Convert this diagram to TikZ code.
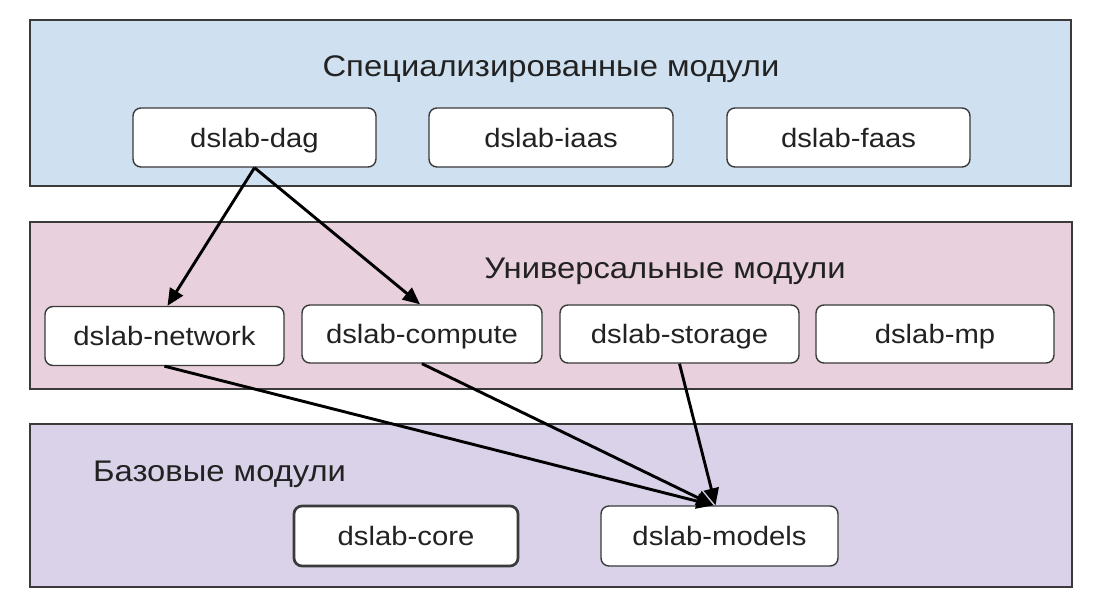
\documentclass[tikz,border=0pt]{standalone}
\usepackage{fontspec}
\setmainfont{Liberation Sans}[FakeStretch=1.1]
\usetikzlibrary{arrows.meta,calc}
\definecolor{topfill}{HTML}{CFE0F0}
\definecolor{midfill}{HTML}{E8D1DC}
\definecolor{botfill}{HTML}{D9D2E8}
\definecolor{edge}{HTML}{3A3A3A}
\definecolor{txt}{HTML}{222222}
\begin{document}
\begin{tikzpicture}[x=1pt,y=-1pt,
  panel/.style={draw=edge,line width=1.7pt},
  mod/.style={draw=edge,line width=1.4pt,fill=white,rounded corners=8pt,
    minimum height=59pt,text height=19.5pt,text depth=0pt,inner sep=0pt,
    font=\fontsize{26.6}{30}\selectfont,text=txt},
  title/.style={anchor=base,font=\fontsize{29.8}{34}\selectfont,text=txt,inner sep=0pt},
  dep/.style={line width=2.9pt,-{Triangle[length=17pt,width=15pt]},black}]
\useasboundingbox (0,0) rectangle (1096,612);
% panels
\filldraw[panel,fill=topfill] (30,20) rectangle (1071,186);
\filldraw[panel,fill=midfill] (30,222) rectangle (1072,389);
\filldraw[panel,fill=botfill] (30,424) rectangle (1072,587);
% titles
\node[title] (t1) at (551,77) {Специализированные модули};
\node[title] (t2) at (665,279) {Универсальные модули};
\node[title,anchor=base west] (t3) at (93,482) {Базовые модули};
% specialized
\node[mod,minimum width=243pt] (dag) at (254.5,137.5) {dslab-dag};
\node[mod,minimum width=244pt] (iaas) at (551,137.5) {dslab-iaas};
\node[mod,minimum width=243pt] (faas) at (848.5,137.5) {dslab-faas};
% universal
\node[mod,minimum width=239pt,minimum height=59pt] (net) at (164.5,336) {dslab-network};
\node[mod,minimum width=240pt,minimum height=58pt] (comp) at (422,334) {dslab-compute};
\node[mod,minimum width=239pt,minimum height=58pt] (stor) at (679.5,334) {dslab-storage};
\node[mod,minimum width=238pt,minimum height=58pt] (mp) at (935,334) {dslab-mp};
% base
\node[mod,line width=2.7pt,minimum width=224pt,minimum height=60pt] (core) at (406,536) {dslab-core};
\node[mod,minimum width=237pt,minimum height=60pt] (models) at (719.5,536) {dslab-models};
% dependencies
\draw[dep] (dag.south) -- ([xshift=3pt]net.north);
\draw[dep] (dag.south) -- ([xshift=-2pt]comp.north);
\draw[dep] (net.south) -- ([xshift=-6pt]models.north);
\draw[dep] (comp.south) -- ([xshift=-6pt]models.north);
\draw[dep] (stor.south) -- ([xshift=-4pt]models.north);
\end{tikzpicture}
\end{document}
